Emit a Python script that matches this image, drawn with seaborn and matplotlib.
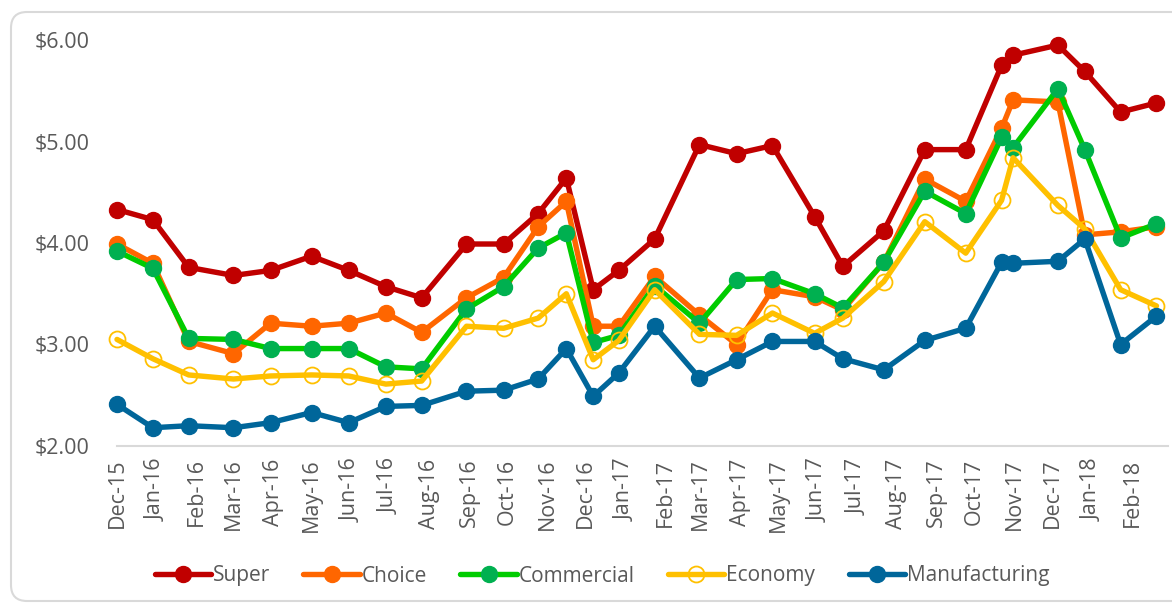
import matplotlib
matplotlib.use('Agg')
import matplotlib.pyplot as plt
import matplotlib.dates as mdates
import matplotlib.transforms as mtransforms
from matplotlib.patches import FancyBboxPatch
import seaborn as sns
import pandas as pd

# Data
dates = ['2015-12-01', '2015-12-29', '2016-01-26', '2016-03-01', '2016-03-30',
         '2016-05-01', '2016-05-30', '2016-06-28', '2016-07-26', '2016-08-30',
         '2016-09-28', '2016-10-25', '2016-11-16', '2016-12-07', '2016-12-27',
         '2017-01-24', '2017-02-28', '2017-03-29', '2017-04-26', '2017-05-29',
         '2017-06-20', '2017-07-22', '2017-08-23', '2017-09-24', '2017-10-22',
         '2017-10-31', '2017-12-05', '2017-12-26', '2018-01-23', '2018-02-20']

super_ = [4.33, 4.23, 3.76, 3.68, 3.73, 3.87, 3.73, 3.57, 3.46, 3.99,
          3.99, 4.29, 4.64, 3.54, 3.73, 4.04, 4.97, 4.88, 4.96, 4.26,
          3.77, 4.12, 4.92, 4.92, 5.75, 5.85, 5.95, 5.69, 5.29, 5.38]
choice = [3.99, 3.80, 3.03, 2.91, 3.21, 3.18, 3.21, 3.31, 3.12, 3.46,
          3.66, 4.16, 4.41, 3.18, 3.18, 3.67, 3.29, 3.00, 3.54, 3.47,
          3.34, 3.81, 4.63, 4.41, 5.13, 5.41, 5.39, 4.08, 4.11, 4.16]
commercial = [3.92, 3.75, 3.06, 3.05, 2.96, 2.96, 2.96, 2.78, 2.76, 3.35,
              3.57, 3.95, 4.10, 3.02, 3.09, 3.58, 3.21, 3.64, 3.65, 3.50,
              3.36, 3.81, 4.51, 4.29, 5.04, 4.94, 5.52, 4.92, 4.05, 4.19]
economy = [3.05, 2.86, 2.70, 2.66, 2.69, 2.70, 2.69, 2.61, 2.64, 3.18,
           3.16, 3.26, 3.50, 2.85, 3.04, 3.54, 3.10, 3.09, 3.31, 3.11,
           3.26, 3.62, 4.21, 3.90, 4.42, 4.84, 4.37, 4.14, 3.54, 3.38]
manufacturing = [2.41, 2.18, 2.20, 2.18, 2.23, 2.33, 2.23, 2.39, 2.40, 2.54,
                 2.55, 2.66, 2.96, 2.49, 2.72, 3.18, 2.67, 2.85, 3.03, 3.03,
                 2.86, 2.75, 3.04, 3.16, 3.81, 3.80, 3.82, 4.04, 3.00, 3.28]

series = ['Super', 'Choice', 'Commercial', 'Economy', 'Manufacturing']
values = [super_, choice, commercial, economy, manufacturing]
line_colors = ['#C00000', '#FF6600', '#00CC00', '#FFC000', '#00669A']
marker_faces = ['#C00000', '#FF6600', '#00B050', 'none', '#00669A']

y_ticks = [2, 3, 4, 5, 6]
tick_months = pd.date_range('2015-12-01', '2018-02-01', freq='MS')

df = pd.DataFrame({
    'date': pd.to_datetime(dates * len(series)),
    'price': [v for vals in values for v in vals],
    'series': [s for s in series for _ in dates],
})

sns.set_style('white')
plt.rcParams['font.family'] = ['Open Sans', 'DejaVu Sans']

fig = plt.figure(figsize=(11.72, 6.07), dpi=100)

# rounded chart border
fig.patches.append(FancyBboxPatch((11, 6), 1200, 589, boxstyle='round,pad=0,rounding_size=16',
                                  transform=mtransforms.IdentityTransform(), fill=False,
                                  edgecolor='#D9D9D9', linewidth=1.5, figure=fig))

ax = fig.add_axes([117 / 1172, 161 / 607, 1051 / 1172, 406 / 607])

for name, lc, mf in zip(series, line_colors, marker_faces):
    sub = df[df['series'] == name]
    sns.lineplot(data=sub, x='date', y='price', ax=ax, color=lc, linewidth=3.9,
                 marker='o', markersize=11.5, markerfacecolor=mf,
                 markeredgecolor=lc if mf == 'none' else mf,
                 markeredgewidth=1.3 if mf == 'none' else 1,
                 label=name, clip_on=False)

ax.set_xlim(pd.Timestamp('2015-12-01'), pd.Timestamp('2018-03-01'))
ax.set_ylim(2, 6)
ax.set_yticks(y_ticks)
ax.set_yticklabels([f'${v:.2f}' for v in y_ticks])
ax.set_xticks(tick_months)
ax.xaxis.set_major_formatter(mdates.DateFormatter('%b-%y'))
ax.tick_params(axis='x', length=0, pad=9, labelsize=15.5, labelcolor='#595959', rotation=90)
ax.tick_params(axis='y', length=0, pad=20, labelsize=15.5, labelcolor='#595959')
ax.set_xlabel('')
ax.set_ylabel('')
ax.grid(False)
for side in ['left', 'right', 'top']:
    ax.spines[side].set_visible(False)
ax.spines['bottom'].set_color('#D9D9D9')
ax.spines['bottom'].set_linewidth(1.5)

handles, labels = ax.get_legend_handles_labels()
ax.legend_.remove()
fig.legend(handles, labels, loc='center', bbox_to_anchor=(602 / 1172, 31 / 607), ncol=5,
           frameon=False, fontsize=15, handlelength=2.7, handletextpad=0.1,
           columnspacing=1.6, labelcolor='#595959')

fig.savefig('out.png', dpi=100)
